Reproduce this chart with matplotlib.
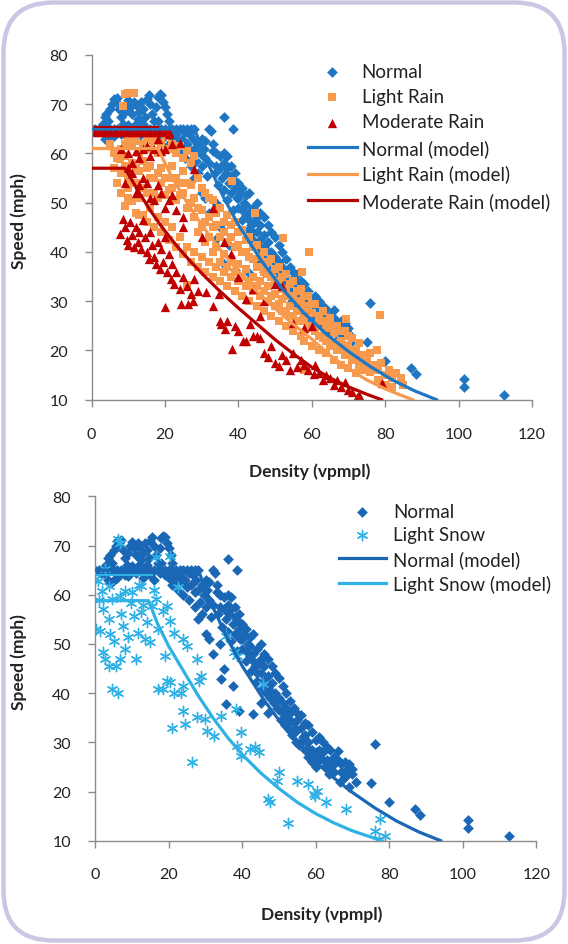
import numpy as np
import matplotlib
matplotlib.use("Agg")
import matplotlib.pyplot as plt
from matplotlib.patches import FancyBboxPatch

plt.rcParams['font.family'] = ['Lato', 'DejaVu Sans']

# ---------------- data (density vpmpl, speed mph) ----------------
x_ticks = [0, 20, 40, 60, 80, 100, 120]
y_ticks = [10, 20, 30, 40, 50, 60, 70, 80]

normal_pts = [
    # plateau at the speed cap
    (0, 65), (1, 65), (2, 65), (3, 65), (4, 65), (5, 65), (6, 65), (7, 65), (8, 65), (9, 65),
    (10, 65), (11, 65), (12, 65), (13, 65), (14, 65), (15, 65), (16, 65), (17, 65), (18, 65),
    (19, 65), (20, 65), (21, 65), (22, 65), (23, 65), (24, 65), (25, 65), (26, 65), (27, 65), (28, 65),
    (1.5, 64.5), (5.5, 64.5), (9.5, 64.4), (13.5, 64.5), (17.5, 64.4), (21.5, 64.5), (25.5, 64.4),
    # upper cluster
    (2.5, 64.5), (3, 66), (3.5, 67.5), (4, 68), (4.5, 66.5), (5, 69), (5.5, 70), (6, 71), (6.5, 70.5),
    (7, 71.2), (7.5, 69), (8, 67.5), (8.5, 66), (9, 68.5), (9.5, 70), (10, 70.8), (10.5, 69.5), (11, 68),
    (11.5, 70.5), (12, 69.8), (12.5, 67), (13, 68.5), (13.5, 70.5), (14, 69), (14.5, 67.5), (15, 71),
    (15.5, 71.8), (16, 70), (16.5, 68), (17, 66.5), (17.5, 69.5), (18, 71.5), (18.5, 72), (19, 71.8),
    (19.5, 70.5), (20, 69.5), (20.5, 68), (21, 66.5), (12, 66), (10, 65.8), (8, 64), (6, 63.5), (5, 63),
    (7, 64.5), (9, 63.8), (11, 64.5), (13, 63.5), (15, 64), (16, 63), (14, 66), (18, 66.5), (19, 64),
    (20, 63.5), (3.5, 63), (4.5, 62.5),
    # break region and descending band
    (21, 62), (22, 63), (22.5, 61), (23, 64), (23.5, 62.5), (24, 60), (24.5, 63), (25, 61.5), (25.5, 59),
    (26, 62), (26.5, 64), (27, 60.5), (27.5, 63), (28, 61), (28.5, 58.5), (29, 62), (29.5, 60), (30, 57.5),
    (30.5, 61), (31, 59), (31.5, 55.5), (32, 58), (32, 65), (32.5, 64.5), (33, 62), (33.5, 56), (34, 60),
    (34.5, 53.5), (35, 57), (35.5, 55), (36, 52.5), (36, 67.3), (36.5, 56), (37, 50.5), (37.5, 54),
    (38, 52), (38.5, 65), (38.5, 48.5), (39, 53), (39.5, 51), (40, 49), (40.5, 52), (41, 46.5), (41.5, 50),
    (42, 47.5), (42.5, 44.5), (43, 48), (43.5, 45.5), (44, 42.5), (44.5, 46), (45, 44), (45.5, 41),
    (46, 45.5), (46.5, 40), (47, 43.5), (47.5, 39), (48, 42), (48.5, 38), (49, 40), (49.5, 37), (50, 36.5),
    (50.5, 34.5), (51, 38), (51.5, 33.5), (52, 35.5), (52.5, 33), (53, 34.5), (53.5, 31.5), (54, 34),
    (54.5, 30), (55, 32.5), (55.5, 29.5), (56, 33), (56.5, 31), (57, 28.5), (57.5, 30), (58, 27),
    (58.5, 28.5), (59, 26), (59.5, 27.5), (60, 25), (60.5, 27), (61, 26.5), (62, 30), (62.5, 25), (63, 29),
    (63.5, 23.5), (64, 26), (65, 24), (66, 26.5), (66.5, 22), (67, 25.5), (68, 23), (68.5, 24.5), (69, 21),
    (70, 23.5), (71, 22),
    (30, 63), (31, 62.5), (33, 60.5), (34, 57.5), (35, 59.5), (36, 60), (37, 57), (38, 55.5), (39, 56),
    (40, 54), (41, 53), (42, 51.5), (43, 52), (44, 49), (45, 50), (46, 48), (47, 47), (48, 45.5),
    (49, 44), (50, 43), (51, 41.5), (52, 40), (53, 38.5), (54, 37), (55, 36), (56, 35.5), (57, 34),
    (58, 33.5), (59, 32), (60, 30.5), (61, 31), (62, 28), (64, 28.5), (65, 27), (66, 28.2), (67, 24),
    (68, 26), (69, 25.5), (70, 24.5),
    (36, 58), (37, 59.5), (38, 57.5), (39, 54.5), (40, 51), (41, 48.5), (42, 49.5), (43, 46.5), (44, 44),
    (45, 47), (46, 42.5), (47, 41), (48, 40), (49, 38.5), (50, 39), (51, 36), (52, 37), (53, 36),
    (54, 32.5), (55, 34.5), (56, 30), (57, 31.5), (58, 30), (59, 28.5), (60, 28), (61, 28.5), (62, 26.5),
    (63, 26.5), (64, 24.5), (65, 25.5),
    (28, 55), (30, 52), (32, 48), (34.2, 42.9), (35.7, 37.8), (37.5, 41.5), (39.1, 36.4), (43, 35.7),
    (45, 38), (47, 36), (35, 45), (34, 50), (31, 51), (29, 56), (27, 57.5),
    # outliers
    (75, 21.7), (76, 29.7), (80, 17.8), (87, 16.5), (88.5, 15.2), (101.5, 14.2), (101.5, 12.5), (112.5, 11),
]

light_rain_pts = [
    (9, 72), (10, 72.2), (11.5, 72.3), (8.5, 69.7),
    (5, 62), (6, 60), (7, 59), (7.6, 58.9), (8, 61), (9, 62), (10, 63), (11, 61.5), (12, 62.5), (13, 60),
    (14, 62), (15, 63), (16, 61), (17, 62.5), (18, 60), (19, 62), (20, 63.5), (21, 61), (22, 62), (23, 60),
    (24, 61.5), (25, 59), (26, 60.5), (27, 58), (28, 59.5), (8, 56), (9, 57.5), (10, 55), (11, 58),
    (12, 54), (13, 56.5), (14, 53), (15, 57), (16, 55), (17, 52), (18, 56), (19, 54), (20, 51.5), (21, 55),
    (22, 53), (23, 50.5), (24, 54), (25, 52), (26, 49), (27, 53.5), (28, 51), (29, 55), (30, 48.5),
    (31, 52), (32, 47), (33, 50.5), (34, 45.5), (35, 49), (36, 44), (37, 47.5), (38, 43), (38.2, 54.5),
    (39, 46), (40, 41.5), (41, 44.5), (42, 40), (43, 43), (44, 38.5), (44.4, 48), (45, 41.5), (46, 37),
    (47, 40), (48, 35.5), (49, 38.5), (50, 34), (51, 37), (52, 32.5), (52.2, 42.8), (53, 35.5), (54, 31),
    (55, 34), (56, 30), (57, 32.5), (57.3, 35.9), (58, 28.5), (59, 31), (59.2, 40), (60, 27.5), (61, 29.5),
    (62, 26), (63, 28), (64, 24.5), (65, 26.5), (66, 23.5), (67, 25), (68, 22), (69, 24), (69.2, 26.4),
    (70, 21), (71, 22.5), (72, 20), (73, 21.5), (74, 19), (75, 18), (75.8, 15.7), (76, 19.5), (77, 17),
    (77.7, 20.1), (78, 16), (78.5, 27.1), (79, 17.5), (80, 15), (81, 16), (82, 14.5), (83, 15.5),
    (84.4, 14.5), (85, 13),
    (9, 49.4), (10, 51), (11, 50.3), (12, 48), (13, 47.5), (14, 47.4), (15, 46), (16, 49), (17, 45),
    (18, 47), (19, 44), (20, 46), (21, 42.5), (22, 45), (23, 41), (24, 43), (25, 39.5), (26, 41),
    (25.9, 33.2), (27, 38), (28, 40), (29, 37), (30, 39), (31, 36), (32, 38), (33, 35), (34, 37), (35, 34),
    (36, 36), (37, 33), (38, 35), (39, 32), (40, 34), (41, 31), (42, 33), (43, 30), (44, 32), (45, 29),
    (46, 31), (47, 28), (48, 30), (49, 27), (50, 29), (51, 26), (52, 28), (53, 25), (54, 27), (55, 24),
    (56, 26), (57, 23), (58, 22), (60, 21), (62, 20), (64, 19.5), (66, 18), (68, 17), (70, 16.5),
    (72, 15.5), (74, 16), (58, 16),
    (29, 44), (30, 45), (31, 42), (32, 43), (33, 40), (34, 41), (35, 38), (36, 39.5), (37, 37),
    (38, 38.5), (39, 36), (40, 37.5), (41, 35), (42, 36.5), (43, 34), (44, 35), (45, 33), (46, 34),
    (47, 32), (48, 33), (49, 31), (50, 31.5), (51, 29.5), (52, 30.5), (53, 28), (54, 29), (55, 27),
    (56, 28), (57, 26), (58, 26.5), (59, 25), (60, 24.5), (61, 24), (62, 23), (63, 22.5), (64, 22),
    (65, 21), (66, 21.5), (67, 20), (68, 20.5), (69, 19), (70, 19.5), (71, 18), (72, 18.5), (73, 17),
    (74, 17.5), (76, 16.5), (78, 14), (80, 13), (82, 12.5),
    (6, 57), (7, 54), (8, 52), (9, 59.5), (10, 53), (11, 54), (12, 57), (13, 51), (14, 58.5), (15, 52),
    (16, 57.5), (17, 55), (18, 51), (19, 57), (20, 55), (21, 52.5), (22, 57.5), (23, 55), (24, 51.5),
    (25, 56.5), (26, 54), (27, 50), (28, 47), (29, 49), (30, 53), (31, 46), (32, 51), (33, 45), (34, 48),
    (35, 43), (36, 46), (37, 42), (38, 45.5), (39, 41), (40, 44), (41, 40), (42, 42.5), (43, 39),
    (44, 41), (45, 37), (46, 39), (47, 36), (48, 38), (49, 35), (50, 36.5), (51, 33.5), (52, 35),
    (53, 32), (54, 33.5), (55, 31), (56, 32), (57, 30), (58, 31), (59, 29), (60, 29.5), (62, 27),
    (64, 26), (66, 25), (68, 24), (70, 23),
]

moderate_rain_pts = [
    (1, 64.3), (2, 64.3), (3, 64.3), (4, 64.3), (5, 64.3), (6, 64.3), (7, 64.3), (8, 64.3), (9, 64.3),
    (10, 64.3), (11, 64.3), (12, 64.3), (13, 64.3), (14, 64.3), (15, 64.3), (16, 64.3), (17, 64.3),
    (18, 64.3), (19, 64.3), (20, 64.3), (21, 64.3),
    (8, 61), (10, 60), (11, 58), (12, 60.5), (13, 59), (14, 61), (15, 61.5), (16, 59.5), (17, 61),
    (18, 63), (19, 60.5), (20, 61), (21, 64), (22, 62), (24, 62.2), (10, 57), (9, 54), (11, 56), (12, 52),
    (13, 53.5), (14, 55), (15, 54), (16, 51), (17, 50.5), (18, 53.5), (19, 52), (20, 49), (21, 50.5),
    (22, 51.5), (23, 48.5), (25, 47), (27.8, 56.9), (33, 49), (36, 42), (30, 43), (25, 45),
    (38, 39.5), (40, 35), (42, 30.5), (44, 32.5), (46, 27), (47, 30), (50, 33.5), (52, 33), (55, 25.5),
    (58, 24.5), (60, 24.9),
    (7.6, 43.6), (8.6, 46.7), (9, 45), (9.5, 42.5), (10, 41.5), (10.5, 46), (11, 43.5), (11.5, 41),
    (12, 45), (12.5, 42), (13, 44), (13.5, 40.5), (14, 46.5), (14.5, 43), (15, 40), (15.5, 38.5), (16, 44),
    (16.5, 41.5), (17, 39), (17.5, 37.5), (18, 42), (18.5, 36.5), (19, 40.5), (19.5, 38), (20, 43),
    (20.5, 36), (21, 39.5), (21.5, 34.5), (22, 37.5), (22.5, 33.5), (23, 36), (24, 32.5), (25, 35),
    (26, 33), (27, 31.5), (28, 34.5),
    (20, 28.8), (24.4, 29.5), (26.2, 29.5), (27.6, 30.1), (29, 32), (31.3, 31.8), (33, 29), (34.8, 31.5),
    (35, 26), (35.3, 25.4), (36.3, 24.4), (37, 26), (38.2, 20.3), (39, 25), (40, 24), (41.3, 22), (42, 22),
    (43.2, 25.4), (44.1, 23), (45, 23), (46, 22.5), (47, 19.5), (48, 18.6), (49, 21), (50, 17.5),
    (51, 16.9), (52, 19), (53, 18), (54, 16), (55, 19.5), (56, 16.6), (57, 18), (58, 17), (59, 16),
    (60.7, 15.2), (61, 17), (62, 15.5), (63, 14), (64, 15), (65, 14.5), (66, 13), (67, 14), (68, 12.5),
    (69, 13.5), (70, 12), (71, 11.5), (72.3, 10.5), (72.5, 10), (73, 11), (79.2, 13.4),
]

light_snow_pts = [
    (6.1, 71.3), (6.6, 70.6), (2.7, 65.2), (0.7, 62.8), (0.2, 53), (1.2, 52.7), (2.2, 48.3), (2.7, 46.9),
    (3.6, 45.6), (4.6, 40.8), (6.1, 40.1), (5.6, 45.6), (6.6, 46.9), (8.1, 49), (3.6, 55), (7.6, 53.7),
    (11.5, 52.3), (13.5, 51), (15, 50.3), (10.6, 55.7), (9.6, 58.4), (15.5, 57.8), (18.4, 56.7),
    (19.4, 57.8), (20.4, 54.7), (16.5, 59.1), (12.5, 56.4), (4.6, 59.1), (1.7, 60.8), (6.6, 59.8),
    (3.6, 61.8), (8.1, 60.8), (0, 63.2), (11, 46.9), (5, 50.5), (7, 56), (9, 51.5), (13, 58), (14, 54.5),
    (2, 57), (4, 52), (10, 60.5), (12, 62), (17, 53), (16, 61), (1, 59),
    (18.9, 47.6), (19.4, 42.5), (17, 40.8), (18.4, 40.8), (21.4, 40.1), (23.4, 40.1), (20.4, 42.2),
    (23.9, 41.5), (20.9, 33), (23.9, 36.4), (24.4, 33.7), (26.3, 25.9), (27.8, 35.1), (29.8, 34.7),
    (30.3, 32.4), (32.2, 31.3), (34.2, 35.4), (27.8, 46.9), (28.3, 42.5), (21.4, 52.3), (23.9, 51),
    (24.9, 49.6), (28.8, 43.5), (35.7, 51.7), (37.7, 48.3), (38.7, 47.6), (38.2, 36.8), (38.7, 29.3),
    (39.6, 27.3), (39.6, 32), (42.1, 28.6), (43.6, 29), (44.6, 28), (45.6, 41.8), (47, 18.5),
    (47.5, 17.8), (50, 23.9), (49.5, 22.2), (52.5, 13.7), (54.9, 22.2), (57.9, 21.5), (59.4, 19.5),
    (60.4, 20.2), (59.9, 19.1), (62.8, 17.8), (68.2, 16.4), (76.1, 12), (77.6, 14.4), (78.8, 11),
    (77.1, 10.3), (16.5, 67.6), (20.4, 67.9), (22.4, 61.5), (12.5, 61.8),
]

# model curves (density, speed)
normal_model_k = [0, 28, 32, 36, 40, 46, 52, 58, 64, 70, 76, 82, 88, 94]
normal_model_v = [65, 65, 57.5, 51, 45.5, 38.5, 32.5, 27.5, 23.3, 19.8, 16.7, 14.0, 11.8, 10]
light_rain_model_k = [0, 18, 22, 26, 30, 35, 40, 45, 50, 55, 60, 65, 70, 75, 80, 84, 87.5]
light_rain_model_v = [61, 61, 55, 50, 45.5, 40.5, 36, 32, 28.5, 25.3, 22.3, 19.0, 16.3, 14.0, 12.2, 11.0, 10]
moderate_rain_model_k = [0, 9, 10, 13, 16, 19, 23, 27, 31, 35, 40, 45, 50, 55, 60, 65, 70, 75, 79]
moderate_rain_model_v = [57, 57, 55.8, 52, 48.4, 45.2, 41.4, 38, 34.9, 32, 28.6, 25.4, 22.2, 19.3, 16.6, 14.4, 12.6, 11.1, 10]
moderate_rain_cap_k = [1, 18]
moderate_rain_cap_v = [65.3, 65.3]
light_snow_model_k = [0, 14.5, 17, 20, 24, 28, 32, 36, 40, 45, 50, 55, 60, 65, 70, 74, 78]
light_snow_model_v = [58.8, 58.8, 54, 49.5, 44.5, 39.5, 35, 31, 27.5, 23.8, 20.6, 17.8, 15.5, 13.6, 12, 11, 10]
light_snow_cap_k = [0, 15.5]
light_snow_cap_v = [64.1, 64.1]

# ---------------- styling ----------------
C_NORMAL = '#1f77c4'
C_LRAIN = '#f79a4d'
C_MRAIN = '#c00000'
C_NORMAL2 = '#1a68b5'
C_SNOW = '#2fb1e6'
GRAY = '#8c8c8c'
TXT = '#222222'


def xy(pts):
    a = np.array(pts, dtype=float)
    return a[:, 0], a[:, 1]


fig = plt.figure(figsize=(5.68, 9.45), dpi=100)
border = FancyBboxPatch((0.035, 0.035), 5.61, 9.38,
                        boxstyle="round,pad=0,rounding_size=0.5",
                        transform=fig.dpi_scale_trans, fill=False,
                        edgecolor='#cdc5e4', linewidth=3.2)
fig.patches.append(border)

ax1 = fig.add_axes([0.1614, 0.576, 0.775, 0.3648])
ax2 = fig.add_axes([0.1678, 0.1093, 0.7762, 0.3644])


def style(ax, xpad, ypad):
    ax.set_xlim(0, 120)
    ax.set_ylim(10, 80)
    ax.set_xticks(x_ticks)
    ax.set_yticks(y_ticks)
    for s in ['top', 'right']:
        ax.spines[s].set_visible(False)
    for s in ['left', 'bottom']:
        ax.spines[s].set_color(GRAY)
        ax.spines[s].set_linewidth(1.0)
    ax.tick_params(direction='out', length=5, width=1, color=GRAY,
                   labelsize=11.5, labelcolor=TXT)
    ax.tick_params(axis='x', pad=xpad)
    ax.tick_params(axis='y', pad=ypad)


LBL = dict(fontweight='bold', fontsize=12.5, color=TXT)

# ---- top panel ----
style(ax1, 15, 12)
k, v = xy(normal_pts)
ax1.scatter(k, v, marker='D', s=30, color=C_NORMAL, linewidths=0, label='Normal', zorder=2)
k, v = xy(light_rain_pts)
ax1.scatter(k, v, marker='s', s=26, color=C_LRAIN, linewidths=0, label='Light Rain', zorder=2)
k, v = xy(moderate_rain_pts)
ax1.scatter(k, v, marker='^', s=45, color=C_MRAIN, linewidths=0, label='Moderate Rain', zorder=2)
ax1.plot(normal_model_k, normal_model_v, color=C_NORMAL, lw=2.3, label='Normal (model)', zorder=3)
ax1.plot(light_rain_model_k, light_rain_model_v, color=C_LRAIN, lw=2.3, label='Light Rain (model)', zorder=3)
ax1.plot(moderate_rain_model_k, moderate_rain_model_v, color='#b50000', lw=2.3, label='Moderate Rain (model)', zorder=3)
ax1.plot(moderate_rain_cap_k, moderate_rain_cap_v, color='#b50000', lw=1.5, zorder=3)
ax1.set_ylabel('Speed (mph)', **LBL)
ax1.set_xlabel('Density (vpmpl)', **LBL)
ax1.yaxis.set_label_coords(-0.147, 0.521)
ax1.xaxis.set_label_coords(0.496, -0.181)
ax1.legend(loc='upper left', bbox_to_anchor=(308 / 568, 1 - 63.6 / 945), bbox_transform=fig.transFigure,
           frameon=False, fontsize=13.5, handlelength=2.61, handletextpad=0.25,
           labelspacing=0.45, borderpad=0, borderaxespad=0, scatterpoints=1,
           labelcolor=TXT)

# ---- bottom panel ----
style(ax2, 14, 12.5)
k, v = xy(normal_pts)
ax2.scatter(k, v, marker='D', s=30, color=C_NORMAL2, linewidths=0, label='Normal', zorder=2)
k, v = xy(light_snow_pts)
ax2.scatter(k, v, marker=(6, 2, 0), s=55, color=C_SNOW, linewidths=1.0, label='Light Snow', zorder=2)
ax2.plot(normal_model_k, normal_model_v, color=C_NORMAL2, lw=2.3, label='Normal (model)', zorder=3)
ax2.plot(light_snow_model_k, light_snow_model_v, color=C_SNOW, lw=2.3, label='Light Snow (model)', zorder=3)
ax2.plot(light_snow_cap_k, light_snow_cap_v, color=C_SNOW, lw=1.5, zorder=3)
ax2.set_ylabel('Speed (mph)', **LBL)
ax2.set_xlabel('Density (vpmpl)', **LBL)
ax2.yaxis.set_label_coords(-0.155, 0.523)
ax2.xaxis.set_label_coords(0.514, -0.189)
ax2.legend(loc='upper left', bbox_to_anchor=(339 / 568, 1 - 503.6 / 945), bbox_transform=fig.transFigure,
           frameon=False, fontsize=13.5, handlelength=2.5, handletextpad=0.37,
           labelspacing=0.36, borderpad=0, borderaxespad=0, scatterpoints=1,
           labelcolor=TXT)

fig.savefig('out.png', dpi=100)
